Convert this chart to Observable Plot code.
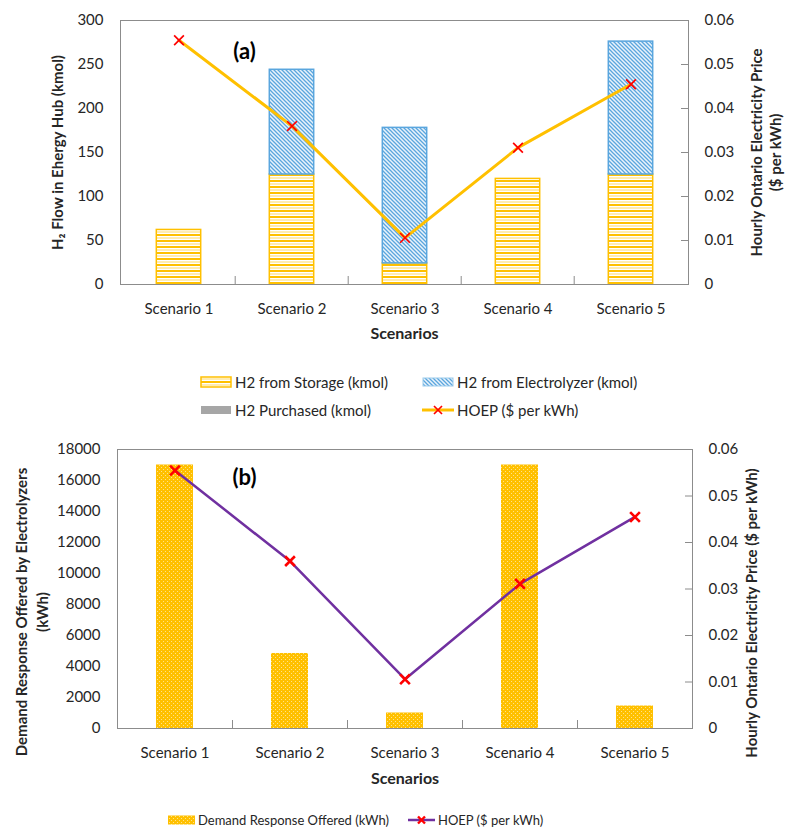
<!DOCTYPE html>
<html><head><meta charset="utf-8">
<script src="https://cdn.jsdelivr.net/npm/d3@7"></script>
<script src="https://cdn.jsdelivr.net/npm/@observablehq/plot@0.6"></script>
<style>
body{margin:0;background:#fff;font-family:Lato,"Open Sans",sans-serif;}
#wrap{position:relative;width:785px;height:830px;overflow:hidden;}
.chart{position:absolute;left:0;}
.leg{position:absolute;display:flex;align-items:center;white-space:nowrap;color:#262626;}
.leg svg{margin-right:3px;}
</style></head><body>
<svg width="0" height="0" style="position:absolute;left:0;top:0">
  <defs>
    <pattern id="pStripe" patternUnits="userSpaceOnUse" width="8" height="6">
      <rect width="8" height="6" fill="#fff"/>
      <rect y="0" width="8" height="2" fill="#FFC000"/>
      <rect y="3.5" width="8" height="1" fill="#FFD966"/>
    </pattern>
    <pattern id="pHatch" patternUnits="userSpaceOnUse" width="4" height="4">
      <rect width="4" height="4" fill="#EAF3FB"/>
      <path d="M-1,-1 L5,5 M-1,3 L1,5 M3,-1 L5,1" stroke="#5AA6DE" stroke-width="1.3"/>
    </pattern>
    <pattern id="pDots" patternUnits="userSpaceOnUse" width="4" height="4">
      <rect width="4" height="4" fill="#FFC000"/>
      <rect x="1" y="1" width="1" height="1" fill="#FFE38A"/>
      <rect x="3" y="3" width="1" height="1" fill="#FFE38A"/>
    </pattern>
  </defs>
</svg>
<div id="wrap"></div>
<script>
// ---- data ----
const scenarios = ["Scenario 1", "Scenario 2", "Scenario 3", "Scenario 4", "Scenario 5"];
const h2Storage = [62, 125, 24, 120, 125];
const h2Electrolyzer = [0, 119, 154, 0, 151];
const h2Purchased = [0, 0, 0, 0, 0];
const hoep = [0.0555, 0.036, 0.0106, 0.0311, 0.0455];
const demandResponse = [17000, 4840, 1000, 17000, 1450];
const leftTicksA = [0, 50, 100, 150, 200, 250, 300];
const leftTicksB = [0, 2000, 4000, 6000, 8000, 10000, 12000, 14000, 16000, 18000];
const priceTicks = [0, 0.01, 0.02, 0.03, 0.04, 0.05, 0.06];

const rows = scenarios.map((s, i) => ({
  scenario: s, storage: h2Storage[i], electro: h2Electrolyzer[i],
  purchased: h2Purchased[i], hoep: hoep[i], dr: demandResponse[i]
}));

const W = 785;
const FRAME = "#8c8c8c";
const TXT = "#262626";
const fmtPrice = v => { const r = Math.round(v * 1000) / 1000; return r === 0 ? "0" : r.toFixed(2); };
const centered = {textAnchor: "middle", lineAnchor: "middle"};

function chartA() {
  const mL = 120, mR = 97, mT = 20, mB = 61, H = 345;
  const K = 300 / 0.06;
  const plotW = W - mL - mR, plotH = H - mT - mB, step = plotW / scenarios.length;
  const inset = (step - 45) / 2;
  return Plot.plot({
    width: W, height: H, marginLeft: mL, marginRight: mR, marginTop: mT, marginBottom: mB,
    style: {fontFamily: "Lato, sans-serif", fontSize: "15px", color: TXT, background: "white", overflow: "visible"},
    x: {domain: scenarios, padding: 0},
    y: {domain: [0, 300]},
    marks: [
      Plot.barY(rows, {x: "scenario", y1: 0, y2: "storage", fill: "url(#pStripe)", stroke: "#FFC000", strokeWidth: 1.5, insetLeft: inset, insetRight: inset}),
      Plot.barY(rows.filter(d => d.electro > 0), {x: "scenario", y1: "storage", y2: d => d.storage + d.electro, fill: "url(#pHatch)", stroke: "#5AA6DE", strokeWidth: 1.5, insetLeft: inset, insetRight: inset}),
      Plot.barY(rows.filter(d => d.purchased > 0), {x: "scenario", y1: d => d.storage + d.electro, y2: d => d.storage + d.electro + d.purchased, fill: "#A6A6A6", insetLeft: inset, insetRight: inset}),
      Plot.frame({stroke: FRAME}),
      Plot.ruleX(scenarios.slice(1), {x: d => d, dx: -step / 2, insetTop: plotH - 8, stroke: FRAME}),
      Plot.ruleY(priceTicks.map(v => v * K), {y: d => d, insetLeft: plotW - 7, stroke: FRAME}),
      Plot.axisX({tickSize: 0, tickPadding: 19, label: null, fontSize: 15}),
      Plot.axisY(leftTicksA, {anchor: "left", tickSize: 0, tickPadding: 17, label: null, fontSize: 15}),
      Plot.axisY(priceTicks.map(v => v * K), {anchor: "right", tickSize: 0, tickPadding: 16, label: null, fontSize: 15, tickFormat: v => fmtPrice(v / K)}),
      Plot.line(rows, {x: "scenario", y: d => d.hoep * K, stroke: "#FFC000", strokeWidth: 3}),
      Plot.dot(rows, {x: "scenario", y: d => d.hoep * K, symbol: "times", r: 4.5, stroke: "#FF0000", strokeWidth: 1.7}),
      Plot.text(["(a)"], {frameAnchor: "top-left", dx: 124, dy: 31, fontSize: 22, fontWeight: "bold", fill: "#000", ...centered}),
      Plot.text(["Scenarios"], {frameAnchor: "bottom", dy: 49, fontSize: 16, fontWeight: "bold", fill: TXT, ...centered}),
      Plot.text(["H\u2082 Flow in Ehergy Hub (kmol)"], {frameAnchor: "left", rotate: -90, dx: -62, fontSize: 15, fontWeight: "bold", fill: TXT, ...centered}),
      Plot.text(["Hourly Ontario Electricity Price\n($ per kWh)"], {frameAnchor: "right", rotate: -90, dx: 77, lineHeight: 1.25, fontSize: 15, fontWeight: "bold", fill: TXT, ...centered})
    ]
  });
}

function chartB() {
  const mL = 117, mR = 93, mT = 19, mB = 62, H = 360;
  const K = 18000 / 0.06;
  const plotW = W - mL - mR, plotH = H - mT - mB, step = plotW / scenarios.length;
  const inset = (step - 37) / 2;
  return Plot.plot({
    width: W, height: H, marginLeft: mL, marginRight: mR, marginTop: mT, marginBottom: mB,
    style: {fontFamily: "Lato, sans-serif", fontSize: "15px", color: TXT, background: "white", overflow: "visible"},
    x: {domain: scenarios, padding: 0},
    y: {domain: [0, 18000]},
    marks: [
      Plot.barY(rows, {x: "scenario", y: "dr", fill: "url(#pDots)", insetLeft: inset, insetRight: inset}),
      Plot.frame({stroke: FRAME}),
      Plot.ruleX(scenarios.slice(1), {x: d => d, dx: -step / 2, insetTop: plotH - 8, stroke: FRAME}),
      Plot.ruleY(priceTicks.map(v => v * K), {y: d => d, insetLeft: plotW - 7, stroke: FRAME}),
      Plot.axisX({tickSize: 0, tickPadding: 19, label: null, fontSize: 15}),
      Plot.axisY(leftTicksB, {anchor: "left", tickSize: 0, tickPadding: 17, label: null, fontSize: 15, tickFormat: d => String(d)}),
      Plot.axisY(priceTicks.map(v => v * K), {anchor: "right", tickSize: 0, tickPadding: 16, label: null, fontSize: 15, tickFormat: v => fmtPrice(v / K)}),
      Plot.line(rows, {x: "scenario", y: d => d.hoep * K, stroke: "#7030A0", strokeWidth: 2.5}),
      Plot.dot(rows, {x: "scenario", y: d => d.hoep * K, symbol: "times", r: 4.5, stroke: "#FF0000", strokeWidth: 2.6}),
      Plot.text(["(b)"], {frameAnchor: "top-left", dx: 127, dy: 28, fontSize: 22, fontWeight: "bold", fill: "#000", ...centered}),
      Plot.text(["Scenarios"], {frameAnchor: "bottom", dy: 50, fontSize: 16, fontWeight: "bold", fill: TXT, ...centered}),
      Plot.text(["Demand Response Offered by Electrolyzers\n(kWh)"], {frameAnchor: "left", rotate: -90, dx: -87, dy: 23, lineHeight: 1.4, fontSize: 15, fontWeight: "bold", fill: TXT, ...centered}),
      Plot.text(["Hourly Ontario Electricity Price ($ per kWh)"], {frameAnchor: "right", rotate: -90, dx: 60, dy: 24, fontSize: 15, fontWeight: "bold", fill: TXT, ...centered})
    ]
  });
}

const wrap = document.getElementById("wrap");
const a = chartA(); a.classList.add("chart"); a.style.top = "0px"; wrap.appendChild(a);
const b = chartB(); b.classList.add("chart"); b.style.top = "430px"; wrap.appendChild(b);

// ---- legends ----
const legendTop = [
  {label: "H2 from Storage (kmol)", kind: "stripe"},
  {label: "H2 from Electrolyzer (kmol)", kind: "hatch"},
  {label: "H2 Purchased (kmol)", kind: "gray"},
  {label: "HOEP ($ per kWh)", kind: "lineY"}
];
const legendBottom = [
  {label: "Demand Response Offered (kWh)", kind: "dots"},
  {label: "HOEP ($ per kWh)", kind: "lineP"}
];
function swatch(kind, w, h) {
  let inner = "";
  if (kind === "stripe") inner = `<rect x="1" y="${(14 - h) / 2}" width="${w - 2}" height="${h}" fill="url(#pStripe)" stroke="#FFC000" stroke-width="1.5"/>`;
  if (kind === "hatch") inner = `<rect x="1" y="${(14 - h) / 2}" width="${w - 2}" height="${h}" fill="url(#pHatch)" stroke="#9CCBEC" stroke-width="1"/>`;
  if (kind === "gray") inner = `<rect x="1" y="${(14 - h) / 2}" width="${w - 2}" height="${h}" fill="#A6A6A6"/>`;
  if (kind === "dots") inner = `<rect x="0" y="${(14 - h) / 2}" width="${w}" height="${h}" fill="url(#pDots)"/>`;
  if (kind === "lineY") inner = `<line x1="0" x2="${w}" y1="7" y2="7" stroke="#FFC000" stroke-width="3"/><path d="M${w/2-4},3L${w/2+4},11M${w/2-4},11L${w/2+4},3" stroke="#FF0000" stroke-width="1.7"/>`;
  if (kind === "lineP") inner = `<line x1="0" x2="${w}" y1="7" y2="7" stroke="#7030A0" stroke-width="2.5"/><path d="M${w/2-3.5},3.5L${w/2+3.5},10.5M${w/2-3.5},10.5L${w/2+3.5},3.5" stroke="#FF0000" stroke-width="2.4"/>`;
  return `<svg width="${w}" height="14">${inner}</svg>`;
}
const topPos = [[200, 382], [422, 382], [200, 410], [422, 410]];
legendTop.forEach((d, i) => {
  const el = document.createElement("div");
  el.className = "leg";
  el.style.left = topPos[i][0] + "px";
  el.style.top = (topPos[i][1] - 10) + "px";
  el.style.height = "20px";
  el.style.fontSize = "15px";
  el.innerHTML = swatch(d.kind, 32, d.kind === "stripe" ? 10 : 8) + `<span>${d.label}</span>`;
  wrap.appendChild(el);
});
const botPos = [[168, 820], [408, 820]];
legendBottom.forEach((d, i) => {
  const el = document.createElement("div");
  el.className = "leg";
  el.style.left = botPos[i][0] + "px";
  el.style.top = (botPos[i][1] - 10) + "px";
  el.style.height = "20px";
  el.style.fontSize = "13px";
  el.innerHTML = swatch(d.kind, 27, 9) + `<span>${d.label}</span>`;
  wrap.appendChild(el);
});
</script>
</body></html>
